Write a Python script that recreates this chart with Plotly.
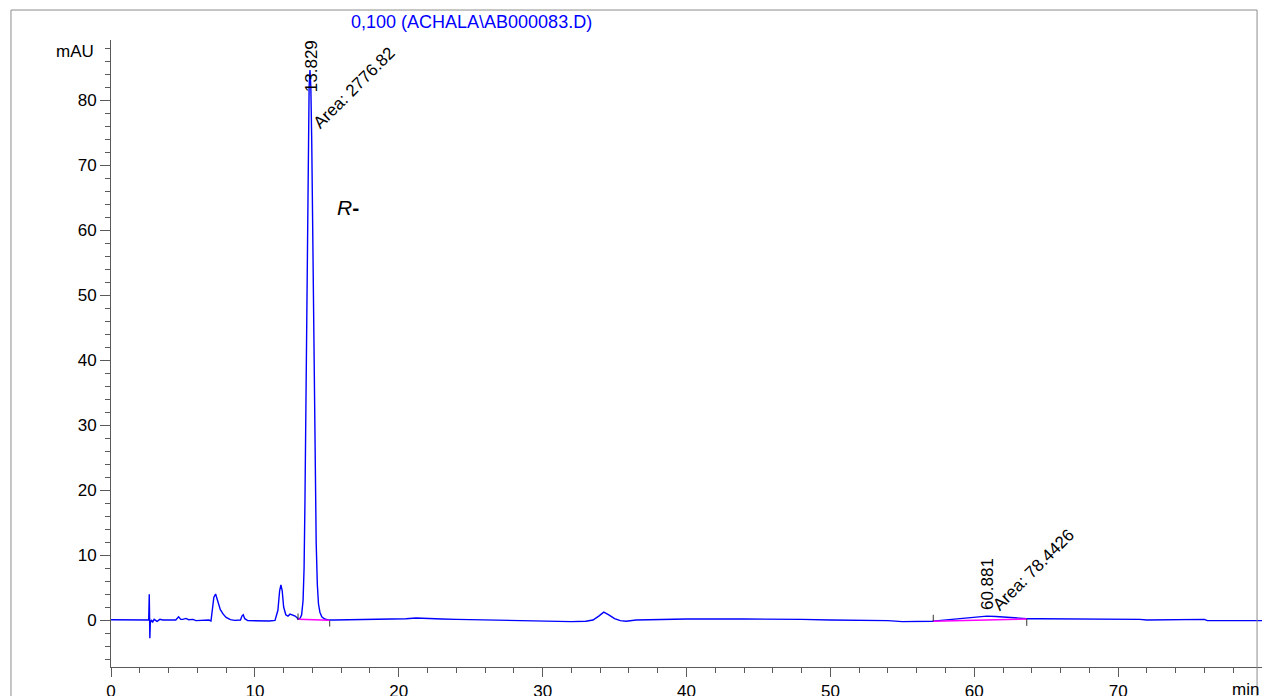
import plotly.graph_objects as go

# ---- data ----
time_min = [
    0.0, 1.0, 2.0, 2.55, 2.62, 2.66, 2.68, 2.70, 2.73, 2.8, 2.9, 3.0, 3.2, 3.4, 3.6,
    4.0, 4.5, 4.7, 4.85, 5.0, 5.2, 5.4, 5.7, 5.9, 6.2, 6.5, 6.8, 6.95,
    7.05, 7.15, 7.27, 7.4, 7.6, 7.8, 8.0, 8.3, 8.6, 9.0, 9.1, 9.19, 9.3, 9.5,
    10.0, 10.5, 11.0, 11.4, 11.6, 11.72, 11.81, 11.9, 12.0, 12.15, 12.3, 12.45,
    12.6, 12.8, 12.95, 13.0, 13.15, 13.25, 13.35, 13.42, 13.48, 13.55, 13.62,
    13.70, 13.77, 13.83, 13.89, 13.95, 14.02, 14.10, 14.18, 14.26, 14.34, 14.42,
    14.52, 14.65, 14.85, 15.1, 15.5, 16.5, 17.5, 18.3, 18.6, 19.5, 20.5, 21.2,
    22.0, 23.0, 24.0, 25.0, 26.0, 27.0, 28.0, 29.0, 30.0, 31.0, 32.0, 33.0,
    33.5, 33.9, 34.25, 34.6, 35.0, 35.4, 35.8, 36.5, 37.5, 38.5, 40.0, 44.0,
    47.0, 48.0, 50.0, 52.0, 54.0, 55.0, 56.0, 57.1, 57.5, 58.5, 59.5, 60.3,
    60.88, 61.5, 62.3, 63.0, 63.65, 64.5, 66.0, 67.0, 68.0, 70.0, 71.5, 72.0,
    73.0, 74.0, 75.0, 76.0, 76.2, 78.0, 80.0,
]
signal_mau = [
    0.05, 0.0, 0.0, -0.05, 0.0, 3.95, 0.5, -2.8, -0.5, 0.0, -0.3, 0.1, -0.2, 0.1, 0.0,
    0.0, 0.0, 0.5, 0.1, 0.1, 0.25, 0.05, 0.1, -0.1, -0.05, -0.1, 0.0, -0.15,
    1.5, 3.5, 4.0, 3.0, 1.6, 0.9, 0.4, 0.05, -0.05, 0.0, 0.6, 0.8, 0.2, -0.1,
    -0.15, -0.1, -0.15, -0.05, 1.5, 4.5, 5.4, 4.5, 2.0, 0.8, 0.6, 0.9,
    0.8, 0.6, 0.3, 0.1, 0.3, 0.8, 3.0, 8.0, 18.0, 35.0, 55.0,
    73.0, 82.0, 84.6, 82.0, 74.0, 58.0, 40.0, 24.0, 12.0, 5.5, 2.5,
    1.2, 0.5, 0.15, 0.0, 0.0, 0.05, 0.05, 0.15, 0.05, 0.1, 0.2, 0.3,
    0.2, 0.15, 0.1, 0.05, 0.0, 0.0, -0.1, -0.15, -0.15, -0.2, -0.25, -0.2,
    0.0, 0.6, 1.2, 0.8, 0.2, -0.1, -0.2, 0.0, 0.05, 0.15, 0.15, 0.15,
    0.15, 0.1, 0.0, -0.05, -0.1, -0.25, -0.25, -0.2, -0.1, 0.1, 0.4, 0.55,
    0.6, 0.55, 0.4, 0.3, 0.2, 0.2, 0.2, 0.2, 0.15, 0.15, 0.1, 0.0,
    0.05, 0.0, 0.05, 0.1, -0.1, -0.1, -0.1,
]

# integration baselines (start, end) for the two integrated peaks
base1_t = [13.0, 15.2]
base1_v = [0.1, -0.05]
base2_t = [57.15, 63.65]
base2_v = [-0.2, 0.15]

# peak start / end marks
mark_t = [13.0, 15.2, 57.15, 63.65]
mark_from = [0.0, -0.1, -0.2, 0.15]
mark_to = [1.0, -1.0, 0.8, -0.9]

peak_rt = [13.829, 60.881]
peak_rt_labels = ["13.829", "60.881"]
peak_area_labels = ["Area: 2776.82", "Area: 78.4426"]

x_tick_vals = [0, 10, 20, 30, 40, 50, 60, 70]
y_tick_vals = [0, 10, 20, 30, 40, 50, 60, 70, 80]

FONT = "Liberation Sans, Arial, sans-serif"
AXC = "#5a5a5a"

fig = go.Figure()
fig.add_trace(go.Scatter(x=time_min, y=signal_mau, mode="lines",
                         line=dict(color="#0000ff", width=1.4), showlegend=False))
fig.add_trace(go.Scatter(x=base1_t, y=base1_v, mode="lines",
                         line=dict(color="#ff00ff", width=1.5), showlegend=False))
fig.add_trace(go.Scatter(x=base2_t, y=base2_v, mode="lines",
                         line=dict(color="#ff00ff", width=1.5), showlegend=False))
for t, a, b in zip(mark_t, mark_from, mark_to):
    fig.add_trace(go.Scatter(x=[t, t], y=[a, b], mode="lines",
                             line=dict(color="#333333", width=1), showlegend=False))

# peak labels
fig.add_annotation(x=13.9, y=85.2, text=peak_rt_labels[0], textangle=-90,
                   showarrow=False, font=dict(size=17, color="black", family=FONT))
fig.add_annotation(x=16.95, y=81.85, text=peak_area_labels[0], textangle=-45,
                   showarrow=False, font=dict(size=17, color="black", family=FONT))
fig.add_annotation(x=60.96, y=5.54, text=peak_rt_labels[1], textangle=-90,
                   showarrow=False, font=dict(size=17, color="black", family=FONT))
fig.add_annotation(x=64.15, y=7.77, text=peak_area_labels[1], textangle=-45,
                   showarrow=False, font=dict(size=17, color="black", family=FONT))
fig.add_annotation(x=16.5, y=63.5, text="<i>R</i><b>-</b>", showarrow=False,
                   font=dict(size=21, color="black", family=FONT))

# title & axis unit labels
fig.add_annotation(xref="paper", yref="paper", x=0.3128, y=1.0287,
                   text="0,100 (ACHALA\\AB000083.D)", showarrow=False,
                   xanchor="center", yanchor="middle",
                   font=dict(size=18, color="#0000ff", family=FONT))
fig.add_annotation(xref="paper", yref="paper", x=-0.0313, y=0.981,
                   text="mAU", showarrow=False, xanchor="center", yanchor="middle",
                   font=dict(size=17, color="black", family=FONT))
fig.add_annotation(xref="paper", yref="paper", x=0.9855, y=-0.0351,
                   text="min", showarrow=False, xanchor="center", yanchor="middle",
                   font=dict(size=17, color="black", family=FONT))

# outer frame
frame = dict(color="#8c8c8c", width=1)
fig.add_shape(type="line", xref="paper", yref="paper", x0=-0.0869, x1=-0.0869,
              y0=1.0478, y1=-0.2, line=frame)
fig.add_shape(type="line", xref="paper", yref="paper", x0=-0.0869, x1=0.9957,
              y0=1.0478, y1=1.0478, line=frame)
fig.add_shape(type="line", xref="paper", yref="paper", x0=0.9957, x1=0.9957,
              y0=1.0478, y1=-0.2, line=frame)

fig.update_xaxes(range=[0, 80], tickmode="array", tickvals=x_tick_vals,
                 showline=True, linecolor=AXC, linewidth=1, ticks="outside",
                 ticklen=9, tickcolor=AXC, showgrid=False, zeroline=False,
                 automargin=False,
                 tickfont=dict(size=17, color="black", family=FONT),
                 minor=dict(ticks="outside", ticklen=5, tick0=0, dtick=2,
                            tickcolor=AXC, showgrid=False))
fig.update_yaxes(range=[-7.23, 89.23], tickmode="array", tickvals=y_tick_vals,
                 showline=True, linecolor=AXC, linewidth=1, ticks="outside",
                 ticklen=10, tickcolor=AXC, showgrid=False, zeroline=False,
                 automargin=False,
                 tickfont=dict(size=17, color="black", family=FONT),
                 minor=dict(ticks="outside", ticklen=5, tick0=0, dtick=2,
                            tickcolor=AXC, showgrid=False))

fig.update_layout(width=1262, height=696, margin=dict(l=111, r=0, t=40, b=29),
                  paper_bgcolor="white", plot_bgcolor="white", showlegend=False,
                  font=dict(family=FONT))

fig.write_html(
    "out.html",
    config={"displayModeBar": False},
    post_script="document.body.style.margin='0';document.body.style.overflow='hidden';",
)
